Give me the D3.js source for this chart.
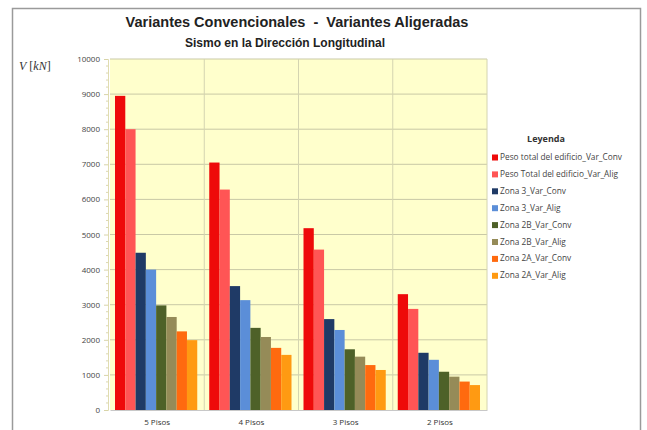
<!DOCTYPE html>
<html>
<head>
<meta charset="utf-8">
<script src="https://cdn.jsdelivr.net/npm/d3@7/dist/d3.min.js"></script>
<style>
  html, body { margin: 0; padding: 0; background: #ffffff; }
  svg { display: block; }
</style>
</head>
<body>
<svg id="chart" width="647" height="430"></svg>
<script>
// Categories (number of storeys) and base shear series [kN]
const categories = ["5 Pisos", "4 Pisos", "3 Pisos", "2 Pisos"];
const seriesNames = [
  "Peso total del edificio_Var_Conv",
  "Peso Total del edificio_Var_Alig",
  "Zona 3_Var_Conv",
  "Zona 3_Var_Alig",
  "Zona 2B_Var_Conv",
  "Zona 2B_Var_Alig",
  "Zona 2A_Var_Conv",
  "Zona 2A_Var_Alig"
];
const pesoConv = [8950, 7050, 5180, 3300];
const pesoAlig = [8000, 6280, 4570, 2880];
const z3Conv   = [4480, 3530, 2590, 1630];
const z3Alig   = [4000, 3130, 2280, 1430];
const z2bConv  = [2980, 2340, 1730, 1090];
const z2bAlig  = [2650, 2080, 1520,  950];
const z2aConv  = [2240, 1770, 1280,  810];
const z2aAlig  = [1990, 1570, 1140,  710];
const yTicks = [0, 1000, 2000, 3000, 4000, 5000, 6000, 7000, 8000, 9000, 10000];
const colors = ["#ee0a0a", "#ff5555", "#1f3a66", "#5b8ed8", "#4e6128", "#958b58", "#ff6a0f", "#ff9a12"];

const seriesValues = [pesoConv, pesoAlig, z3Conv, z3Alig, z2bConv, z2bAlig, z2aConv, z2aAlig];

const svg = d3.select("#chart");

// Outer chart frame
svg.append("rect")
  .attr("x", 12.5).attr("y", 8.5)
  .attr("width", 628).attr("height", 440)
  .attr("fill", "#ffffff")
  .attr("stroke", "#9a9a9a").attr("stroke-width", 1.5);

const plot = { left: 110, right: 487, top: 59, bottom: 410 };

// Plot background
svg.append("rect")
  .attr("x", plot.left).attr("y", plot.top)
  .attr("width", plot.right - plot.left).attr("height", plot.bottom - plot.top)
  .attr("fill", "#ffffcc");

const y = d3.scaleLinear().domain([0, 10000]).range([plot.bottom, plot.top]);
const x0 = d3.scaleBand().domain(categories).range([plot.left, plot.right]).padding(0);
const x1 = d3.scaleBand().domain(seriesNames).range([5, x0.bandwidth() - 7]).padding(0);

// Horizontal gridlines
svg.append("g").selectAll("line")
  .data(yTicks.filter(d => d > 0))
  .join("line")
  .attr("x1", plot.left).attr("x2", plot.right)
  .attr("y1", d => y(d)).attr("y2", d => y(d))
  .attr("stroke", "#c9c9a6").attr("stroke-width", 1);

// Vertical gridlines between categories and at the right edge
svg.append("g").selectAll("line")
  .data(categories.slice(1).map(c => x0(c)).concat([plot.right]))
  .join("line")
  .attr("x1", d => d).attr("x2", d => d)
  .attr("y1", plot.top).attr("y2", plot.bottom)
  .attr("stroke", "#d4d4b0").attr("stroke-width", 1);

// Bars
const groups = svg.append("g").selectAll("g")
  .data(categories)
  .join("g")
  .attr("transform", d => `translate(${x0(d)},0)`);

groups.selectAll("rect")
  .data((c, ci) => seriesNames.map((s, si) => ({ s, si, v: seriesValues[si][ci] })))
  .join("rect")
  .attr("x", d => x1(d.s))
  .attr("y", d => y(d.v))
  .attr("width", x1.bandwidth())
  .attr("height", d => y(0) - y(d.v))
  .attr("fill", d => colors[d.si]);

// Y axis
const yAxis = d3.axisLeft(y).tickValues(yTicks).tickSize(4).tickPadding(4).tickFormat(d3.format("d"));
const gy = svg.append("g").attr("transform", `translate(${plot.left - 2},0)`).call(yAxis);
gy.select(".domain").attr("stroke", "#e0dcb0");
gy.selectAll(".tick line").attr("stroke", "#d8d4a8");
gy.selectAll(".tick text")
  .attr("font-family", "'Open Sans', 'Liberation Sans', sans-serif")
  .attr("font-size", 8)
  .attr("fill", "#444");

// Minor ticks on the y axis
const minor = d3.range(200, 10000, 200).filter(v => v % 1000 !== 0);
svg.append("g").selectAll("line")
  .data(minor)
  .join("line")
  .attr("x1", plot.left - 4).attr("x2", plot.left - 2)
  .attr("y1", d => y(d)).attr("y2", d => y(d))
  .attr("stroke", "#dcd8b0");

// X axis
const xAxis = d3.axisBottom(x0).tickSize(0).tickPadding(9);
const gx = svg.append("g").attr("transform", `translate(0,${plot.bottom})`).call(xAxis);
gx.select(".domain").attr("stroke", "#c8c8c8");
gx.selectAll(".tick text")
  .attr("font-family", "'Open Sans', 'Liberation Sans', sans-serif")
  .attr("font-size", 8)
  .attr("fill", "#333");

// Titles
svg.append("text")
  .attr("x", 297).attr("y", 27)
  .attr("text-anchor", "middle")
  .attr("font-family", "'Liberation Sans', Arial, sans-serif")
  .attr("font-weight", "bold").attr("font-size", 14.5)
  .attr("fill", "#222")
  .attr("xml:space", "preserve")
  .text("Variantes Convencionales  -  Variantes Aligeradas");

svg.append("text")
  .attr("x", 285).attr("y", 47)
  .attr("text-anchor", "middle")
  .attr("font-family", "'Liberation Sans', Arial, sans-serif")
  .attr("font-weight", "bold").attr("font-size", 12)
  .attr("fill", "#222")
  .text("Sismo en la Dirección Longitudinal");

// Y axis unit label
const yl = svg.append("text")
  .attr("x", 19).attr("y", 70)
  .attr("font-family", "'Liberation Serif', 'DejaVu Serif', serif")
  .attr("font-size", 12)
  .attr("fill", "#333");
yl.append("tspan").attr("font-style", "italic").text("V");
yl.append("tspan").text(" [");
yl.append("tspan").attr("font-style", "italic").text("kN");
yl.append("tspan").text("]");

// Legend
const legend = svg.append("g");
legend.append("text")
  .attr("x", 546).attr("y", 142)
  .attr("text-anchor", "middle")
  .attr("font-family", "'Open Sans', 'Liberation Sans', sans-serif")
  .attr("font-weight", "bold").attr("font-size", 9)
  .attr("fill", "#333")
  .text("Leyenda");

const li = legend.selectAll("g.item")
  .data(seriesNames)
  .join("g")
  .attr("class", "item")
  .attr("transform", (d, i) => `translate(492,${160 + i * 16.9})`);
li.append("rect")
  .attr("x", 0).attr("y", -5.5)
  .attr("width", 6).attr("height", 6)
  .attr("fill", (d, i) => colors[i]);
li.append("text")
  .attr("x", 8).attr("y", 0)
  .attr("font-family", "'Open Sans', 'Liberation Sans', sans-serif")
  .attr("font-size", 8.3)
  .attr("fill", "#444")
  .text(d => d);
</script>
</body>
</html>
